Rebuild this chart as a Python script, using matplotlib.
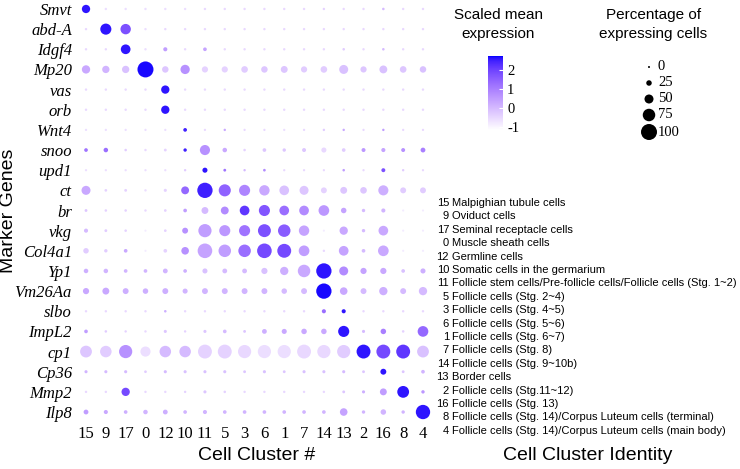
import numpy as np
import matplotlib.pyplot as plt
from matplotlib.colors import ListedColormap

clusters = ["15", "9", "17", "0", "12", "10", "11", "5", "3", "6",
            "1", "7", "14", "13", "2", "16", "8", "4"]

identities = [
    "Malpighian tubule cells",
    "Oviduct cells",
    "Seminal receptacle cells",
    "Muscle sheath cells",
    "Germline cells",
    "Somatic cells in the germarium",
    "Follicle stem cells/Pre-follicle cells/Follicle cells (Stg. 1~2)",
    "Follicle cells (Stg. 2~4)",
    "Follicle cells (Stg. 4~5)",
    "Follicle cells (Stg. 5~6)",
    "Follicle cells (Stg. 6~7)",
    "Follicle cells (Stg. 8)",
    "Follicle cells (Stg. 9~10b)",
    "Border cells",
    "Follicle cells (Stg.11~12)",
    "Follicle cells (Stg. 13)",
    "Follicle cells (Stg. 14)/Corpus Luteum cells (terminal)",
    "Follicle cells (Stg. 14)/Corpus Luteum cells (main body)",
]

genes = ["Smvt", "abd-A", "Idgf4", "Mp20", "vas", "orb", "Wnt4", "snoo", "upd1",
         "ct", "br", "vkg", "Col4a1", "Yp1", "Vm26Aa", "slbo", "ImpL2", "cp1",
         "Cp36", "Mmp2", "Ilp8"]

# percentage of expressing cells / scaled mean expression, per gene (cluster order above)
pct = {}
expr = {}
pct["Smvt"] = [45, 3, 3, 3, 3, 3, 3, 3, 3, 3, 3, 3, 3, 3, 3, 4, 3, 3]
expr["Smvt"] = [2.6, -0.6, -0.6, -0.6, -0.6, -0.6, -0.5, -0.5, -0.5, -0.5, -0.5, -0.5, -0.4, -0.5, -0.5, 0.0, -0.5, -0.5]
pct["abd-A"] = [3, 65, 60, 3, 3, 3, 3, 3, 3, 3, 3, 3, 3, 3, 3, 3, 3, 3]
expr["abd-A"] = [-0.5, 2.6, 1.8, -0.6, -0.5, -0.5, -0.5, -0.5, -0.5, -0.5, -0.5, -0.5, -0.5, -0.5, -0.5, -0.5, -0.5, -0.5]
pct["Idgf4"] = [3, 3, 55, 3, 15, 3, 12, 3, 3, 3, 3, 3, 3, 4, 3, 4, 3, 3]
expr["Idgf4"] = [-0.5, -0.5, 2.6, -0.6, 0.5, -0.5, 0.4, -0.5, -0.5, -0.5, -0.5, -0.5, -0.5, -0.3, -0.5, 0.0, -0.5, -0.5]
pct["Mp20"] = [45, 38, 38, 100, 32, 52, 30, 30, 33, 32, 35, 30, 33, 50, 30, 42, 33, 32]
expr["Mp20"] = [0.3, 0.1, -0.1, 2.7, -0.2, 0.7, -0.4, -0.4, -0.3, -0.2, -0.2, -0.3, -0.3, -0.1, -0.2, -0.1, -0.2, -0.1]
pct["vas"] = [3, 3, 3, 3, 45, 3, 3, 3, 3, 3, 3, 3, 3, 3, 3, 3, 3, 3]
expr["vas"] = [-0.5, -0.5, -0.5, -0.5, 2.6, -0.5, -0.5, -0.5, -0.5, -0.5, -0.5, -0.5, -0.5, -0.5, -0.5, -0.5, -0.5, -0.5]
pct["orb"] = [3, 3, 3, 3, 45, 3, 3, 3, 3, 3, 3, 3, 3, 3, 3, 3, 3, 3]
expr["orb"] = [-0.5, -0.5, -0.5, -0.5, 2.6, -0.5, -0.5, -0.5, -0.5, -0.5, -0.5, -0.5, -0.5, -0.5, -0.5, -0.5, -0.5, -0.5]
pct["Wnt4"] = [2, 2, 2, 2, 2, 12, 2, 3, 2, 2, 2, 2, 3, 3, 2, 3, 2, 2]
expr["Wnt4"] = [-0.6, -0.6, -0.6, -0.6, -0.6, 2.5, -0.5, 0.3, -0.5, -0.5, -0.6, -0.5, -0.3, 0.3, -0.5, 0.5, -0.5, -0.5]
pct["snoo"] = [12, 18, 4, 3, 6, 10, 58, 18, 4, 12, 10, 14, 22, 12, 14, 15, 14, 20]
expr["snoo"] = [1.2, 1.3, -0.3, -0.5, -0.4, 2.5, 0.7, 0.3, -0.4, -0.2, -0.2, -0.2, -0.5, -0.3, 0.6, 0.4, 0.7, 1.0]
pct["upd1"] = [2, 2, 2, 2, 2, 3, 22, 6, 3, 5, 2, 2, 2, 4, 2, 14, 3, 2]
expr["upd1"] = [-0.6, -0.6, -0.6, -0.6, -0.6, -0.3, 2.6, 1.2, 0.0, 0.8, -0.5, -0.5, -0.5, 0.5, -0.5, 1.8, -0.3, -0.5]
pct["ct"] = [50, 5, 6, 3, 8, 42, 95, 72, 65, 60, 55, 50, 28, 35, 33, 58, 28, 28]
expr["ct"] = [0.3, -0.4, -0.4, -0.6, -0.4, 1.4, 2.5, 1.5, 0.9, 0.3, -0.1, -0.2, -0.4, -0.2, -0.2, 0.2, -0.3, -0.3]
pct["br"] = [6, 4, 4, 3, 5, 12, 35, 42, 55, 65, 55, 55, 62, 25, 10, 15, 1, 1]
expr["br"] = [-0.2, -0.4, -0.4, -0.5, -0.4, 0.5, 0.0, 0.8, 2.2, 1.7, 1.3, 0.8, 0.6, 0.4, 0.0, 0.1, -0.8, -0.8]
pct["vkg"] = [15, 6, 4, 1, 5, 28, 80, 65, 65, 78, 75, 60, 1, 45, 10, 55, 1, 1]
expr["vkg"] = [0.0, -0.3, -0.4, -0.8, -0.4, 0.7, 0.5, 0.6, 1.2, 1.8, 1.6, 0.4, -0.8, 0.3, 0.0, 0.3, -0.8, -0.8]
pct["Col4a1"] = [25, 10, 12, 1, 12, 40, 90, 75, 75, 90, 85, 62, 3, 55, 12, 62, 1, 1]
expr["Col4a1"] = [-0.3, -0.3, 0.3, -0.8, -0.4, 0.7, 0.4, 0.5, 1.3, 1.9, 1.9, 0.5, -0.5, 0.4, 0.0, 0.3, -0.8, -0.8]
pct["Yp1"] = [18, 18, 12, 12, 20, 12, 22, 20, 20, 30, 45, 75, 95, 50, 30, 30, 12, 22]
expr["Yp1"] = [0.2, 0.1, 0.1, 0.1, 0.1, 0.2, -0.1, 0.0, 0.0, -0.1, 0.2, 0.3, 2.6, 0.8, 0.4, 0.3, -0.1, 0.2]
pct["Vm26Aa"] = [30, 35, 28, 25, 28, 22, 28, 28, 28, 28, 25, 28, 95, 40, 28, 45, 28, 45]
expr["Vm26Aa"] = [0.3, 0.3, 0.2, 0.2, 0.2, 0.1, 0.1, 0.1, 0.1, 0.1, 0.0, 0.0, 2.7, 0.3, 0.0, 0.2, 0.0, 0.0]
pct["slbo"] = [3, 3, 3, 3, 4, 3, 3, 3, 3, 3, 3, 3, 15, 15, 3, 3, 3, 3]
expr["slbo"] = [-0.5, -0.5, -0.5, -0.5, 0.2, -0.5, -0.5, -0.5, -0.5, -0.5, -0.5, -0.5, 1.3, 2.6, -0.5, -0.5, -0.5, -0.5]
pct["ImpL2"] = [12, 4, 3, 3, 8, 3, 8, 12, 6, 20, 22, 25, 25, 65, 8, 25, 4, 62]
expr["ImpL2"] = [0.5, -0.3, -0.4, -0.5, -0.2, -0.4, -0.2, 0.0, -0.2, 0.2, 0.3, 0.3, 0.3, 2.6, 0.0, 1.0, -0.4, 1.4]
pct["cp1"] = [70, 68, 80, 58, 68, 68, 85, 85, 80, 80, 80, 85, 80, 80, 85, 85, 85, 70]
expr["cp1"] = [-0.2, -0.3, 0.7, -0.6, 0.0, 0.0, -0.4, -0.4, -0.5, -0.6, -0.6, -0.5, -0.5, -0.3, 2.6, 1.9, 2.2, -0.1]
pct["Cp36"] = [8, 8, 8, 5, 8, 8, 8, 8, 6, 8, 6, 8, 8, 8, 6, 28, 6, 12]
expr["Cp36"] = [0.1, 0.0, 0.0, -0.3, 0.0, -0.1, -0.1, -0.1, -0.2, -0.1, -0.2, -0.1, -0.1, 0.0, -0.2, 2.6, -0.2, 0.1]
pct["Mmp2"] = [3, 3, 45, 3, 3, 3, 8, 4, 3, 3, 3, 3, 3, 6, 8, 35, 70, 10]
expr["Mmp2"] = [-0.5, -0.5, 1.9, -0.5, -0.5, -0.4, -0.2, -0.4, -0.5, -0.5, -0.5, -0.5, -0.5, -0.2, 0.2, 0.5, 2.6, 0.6]
pct["Ilp8"] = [20, 15, 12, 18, 20, 12, 15, 12, 12, 12, 12, 12, 12, 40, 10, 25, 10, 88]
expr["Ilp8"] = [0.5, 0.3, 0.2, 0.1, 0.2, 0.1, 0.1, 0.1, 0.1, 0.1, 0.1, 0.1, 0.1, 0.4, 0.1, 0.1, 0.1, 2.6]

legend_pcts = [0, 25, 50, 75, 100]
cbar_ticks = [-1, 0, 1, 2]
vmin, vmax = -1.15, 2.75


def lab_to_rgb(L, a, b):
    fy = (L + 16) / 116
    fx = fy + a / 500
    fz = fy - b / 200

    def finv(t):
        return np.where(t > 6 / 29, t ** 3, 3 * (6 / 29) ** 2 * (t - 4 / 29))

    X = 0.95047 * finv(fx)
    Y = finv(fy)
    Z = 1.08883 * finv(fz)
    r = 3.2406 * X - 1.5372 * Y - 0.4986 * Z
    g = -0.9689 * X + 1.8758 * Y + 0.0415 * Z
    bl = 0.0557 * X - 0.2040 * Y + 1.0570 * Z
    rgb = np.clip(np.stack([r, g, bl], -1), 0, None)
    rgb = np.where(rgb <= 0.0031308, 12.92 * rgb, 1.055 * rgb ** (1 / 2.4) - 0.055)
    return np.clip(rgb, 0, 1)


# white -> blue gradient interpolated in Lab, like ggplot
t = np.linspace(0, 1, 256)
cmap = ListedColormap(lab_to_rgb(100 + (32.30 - 100) * t, 79.19 * t, -107.86 * t))


def dot_size(p):
    d_px = 2 + 0.14 * np.asarray(p, dtype=float)
    return (d_px * 0.72) ** 2


W, H = 740, 469
fig = plt.figure(figsize=(W / 100, H / 100), dpi=100)

# overlay in pixel coords for titles and legends
lax = fig.add_axes([0, 0, 1, 1])
lax.set_xlim(0, W)
lax.set_ylim(H, 0)
lax.axis("off")

ax = fig.add_axes([76.1 / W, 1 - 422.1 / H, 356.8 / W, 423.2 / H])
for r, g in enumerate(genes):
    ax.scatter(np.arange(len(clusters)), np.full(len(clusters), r), s=dot_size(pct[g]),
               c=expr[g], cmap=cmap, vmin=vmin, vmax=vmax, linewidths=0, zorder=3)
ax.set_xlim(-0.5, len(clusters) - 0.5)
ax.set_ylim(len(genes) - 0.5, -0.5)
ax.set_xticks(range(len(clusters)))
ax.set_xticklabels(clusters, family="Liberation Serif", fontsize=12)
ax.set_yticks(range(len(genes)))
ax.set_yticklabels(genes, family="Liberation Serif", style="italic", fontsize=12)
ax.tick_params(length=0, pad=3)
for s in ax.spines.values():
    s.set_visible(False)
ax.patch.set_alpha(0)

sans = "Liberation Sans"
lax.text(9, 211, "Marker Genes", rotation=90, ha="center", va="center", family=sans, fontsize=14)
lax.text(257, 455, "Cell Cluster #", ha="center", va="center", family=sans, fontsize=14)
lax.text(588, 455, "Cell Cluster Identity", ha="center", va="center", family=sans, fontsize=14)

# colour legend
lax.text(498, 15, "Scaled mean", ha="center", va="center", family=sans, fontsize=11)
lax.text(498, 34, "expression", ha="center", va="center", family=sans, fontsize=11)
cax = fig.add_axes([488 / W, 1 - 130 / H, 15 / W, 74 / H])
sm = plt.cm.ScalarMappable(cmap=cmap, norm=plt.Normalize(vmin, vmax))
cb = fig.colorbar(sm, cax=cax, ticks=cbar_ticks)
cb.outline.set_visible(False)
cb.set_ticklabels([str(v) for v in cbar_ticks])
cax.tick_params(direction="in", length=3, width=0.8, color="white", pad=3)
for lbl in cax.get_yticklabels():
    lbl.set_family("Liberation Serif")
    lbl.set_fontsize(10.5)

# size legend
lax.text(654, 15, "Percentage of", ha="center", va="center", family=sans, fontsize=11)
lax.text(653, 34, "expressing cells", ha="center", va="center", family=sans, fontsize=11)
leg_y = [67, 83, 99, 115, 132]
lax.scatter([649] * len(legend_pcts), leg_y, s=dot_size(legend_pcts), color="black", linewidths=0)
for p, y in zip(legend_pcts, leg_y):
    lax.text(658, y, str(p), ha="left", va="center", family="Liberation Serif", fontsize=10.5)

# cluster identity list
for k, (c, name) in enumerate(zip(clusters, identities)):
    y = 203 + 13.4 * k
    lax.text(449, y, c, ha="right", va="center", family=sans, fontsize=8)
    lax.text(452, y, name, ha="left", va="center", family=sans, fontsize=8)

fig.savefig("out.png", dpi=100)
